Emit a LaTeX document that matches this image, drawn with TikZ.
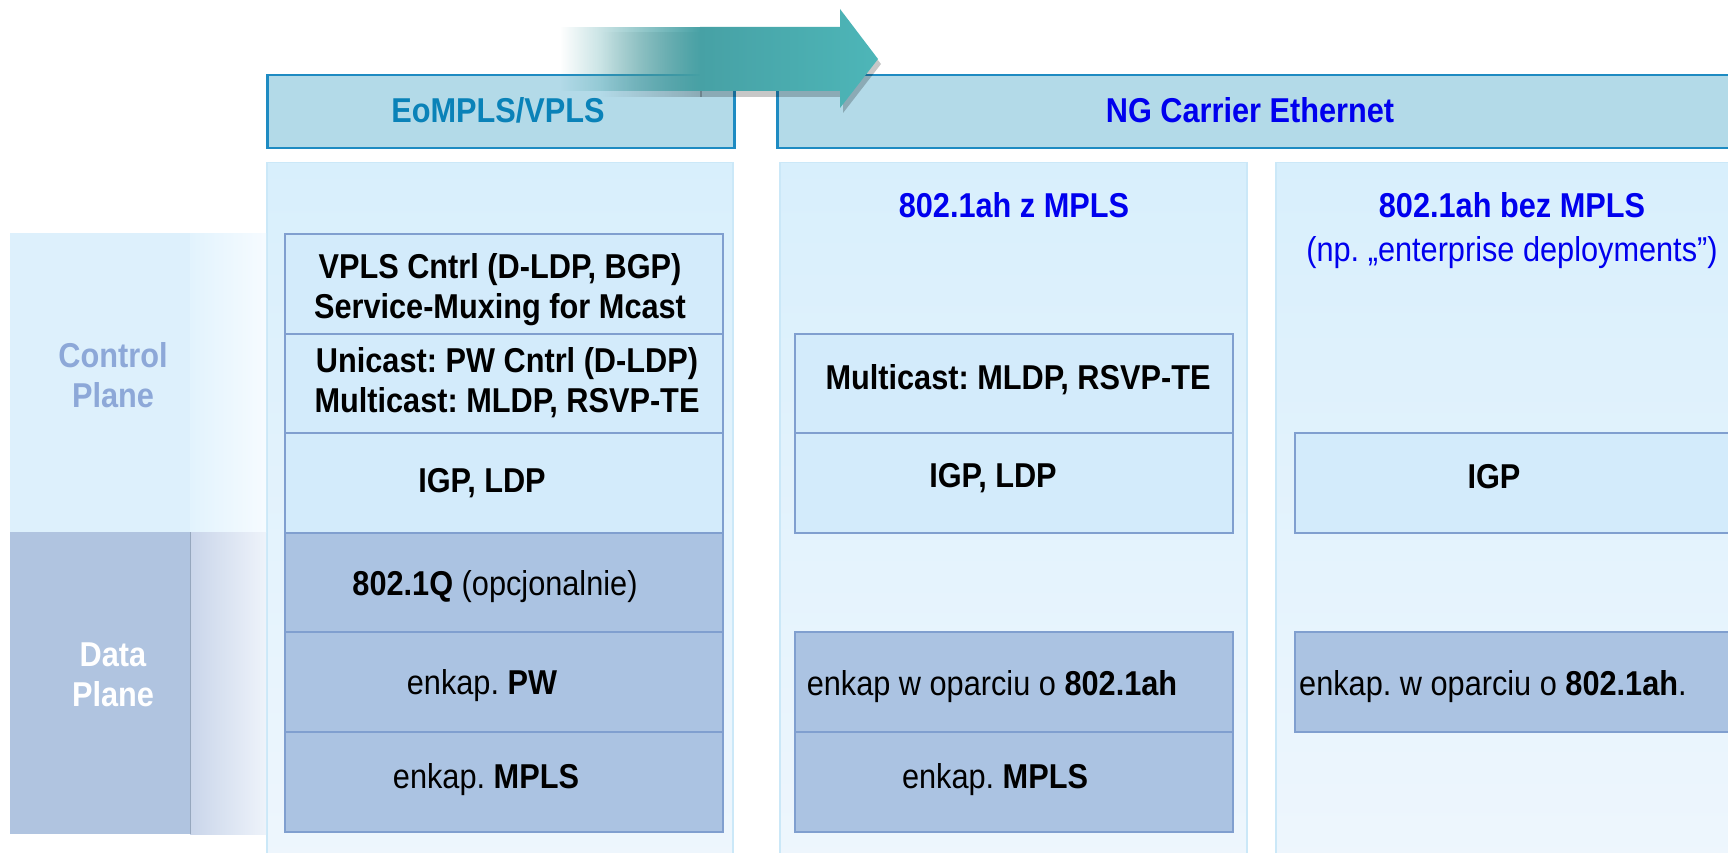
\documentclass[tikz,border=0pt]{standalone}
\usepackage{fontspec}
\setmainfont{Liberation Sans}[FakeStretch=0.89]
\usetikzlibrary{fadings}
\frenchspacing
\definecolor{hdrfill}{HTML}{B3DAE8}
\definecolor{hdrline}{HTML}{1E8BC2}
\definecolor{eocol}{HTML}{0A82B8}
\definecolor{ngcol}{HTML}{0000EE}
\definecolor{colbgtop}{HTML}{D8EFFC}
\definecolor{colbgbot}{HTML}{EEF6FD}
\definecolor{colline}{HTML}{CBE8F8}
\definecolor{cpfill}{HTML}{D3EBFB}
\definecolor{dpfill}{HTML}{ABC3E2}
\definecolor{boxline}{HTML}{809FCF}
\definecolor{cplab}{HTML}{DDF0FC}
\definecolor{dplab}{HTML}{B0C4E0}
\definecolor{cpfadel}{HTML}{E2F3FD}
\definecolor{cpfader}{HTML}{F6FBFF}
\definecolor{dpfadel}{HTML}{C9D5EA}
\definecolor{dpfader}{HTML}{EEF3FA}
\definecolor{cptext}{HTML}{8DA8D8}
\definecolor{arrowteal}{HTML}{4DB6B8}
\definecolor{arrowdark}{HTML}{47A1A5}
\tikzfading[name=fadein, left color=transparent!100, right color=transparent!0]
\begin{document}
\begin{tikzpicture}[x=1pt,y=-1pt,
  box/.style={rectangle, inner sep=0pt, anchor=north west},
  colbg/.style={box, draw=colline, line width=1.5pt, top color=colbgtop, bottom color=colbgbot},
  hdr/.style={box, draw=hdrline, line width=2.5pt, fill=hdrfill},
  cpbox/.style={box, draw=boxline, line width=2pt, fill=cpfill},
  dpbox/.style={box, draw=boxline, line width=2pt, fill=dpfill},
  txt/.style={font=\fontsize{34.5}{40}\selectfont, align=center, inner sep=0pt},
  btxt/.style={font=\fontsize{34.5}{40}\selectfont\bfseries, align=center, inner sep=0pt}]
\clip (0,0) rectangle (1728,853);
\fill[white] (0,0) rectangle (1728,853);

% column backgrounds
\node[colbg, minimum width=466pt, minimum height=700pt] (col1) at (266,162) {};
\node[colbg, minimum width=467pt, minimum height=700pt] (col2) at (779,162) {};
\node[colbg, minimum width=480pt, minimum height=700pt] (col3) at (1275,162) {};

% left plane labels
\node[box, fill=cplab, minimum width=180pt, minimum height=299pt] (cplane) at (10,233) {};
\node[box, left color=cpfadel, right color=cpfader, minimum width=76pt, minimum height=299pt] (cfade) at (190,233) {};
\node[box, fill=dplab, minimum width=180pt, minimum height=302pt] (dplane) at (10,532) {};
\node[box, left color=dpfadel, right color=dpfader, minimum width=76pt, minimum height=302pt] (dfade) at (190,532) {};
\draw[dplab!85!black, line width=0.6pt] (dfade.north west) -- (dfade.south west);
\node[btxt, text=cptext] (cptxt) at (113,375) {Control\\Plane};
\node[btxt, text=white] (dptxt) at (113,675) {Data\\Plane};

% headers
\node[hdr, minimum width=467pt, minimum height=73pt] (h1) at (266,74) {};
\node[hdr, minimum width=990pt, minimum height=73pt] (h2) at (776,74) {};
\node[btxt, text=eocol] (h1t) at (498,110) {EoMPLS/VPLS};
\node[btxt, text=ngcol] (h2t) at (1250,110) {NG Carrier Ethernet};

% arrow
\fill[black, opacity=0.22, path fading=fadein] (600,32) rectangle (702,97);
\fill[black, opacity=0.22] (700,32) -- (843,32) -- (843,15) -- (881,64) -- (843,113) -- (843,97) -- (700,97) -- cycle;
\fill[arrowdark, path fading=fadein] (560,27) rectangle (701,91);
\path[left color=arrowdark, right color=arrowteal] (700,27) -- (840,27) -- (840,9) -- (878,59) -- (840,108) -- (840,91) -- (700,91) -- cycle;
\coordinate (arrowtip) at (878,59);

% column 1
\node[cpbox, minimum width=438pt, minimum height=100pt] (a1) at (284,233) {};
\node[cpbox, minimum width=438pt, minimum height=99pt] (a2) at (284,333) {};
\node[cpbox, minimum width=438pt, minimum height=100pt] (a3) at (284,432) {};
\node[dpbox, minimum width=438pt, minimum height=99pt] (a4) at (284,532) {};
\node[dpbox, minimum width=438pt, minimum height=100pt] (a5) at (284,631) {};
\node[dpbox, minimum width=438pt, minimum height=100pt] (a6) at (284,731) {};
\node[btxt] (a1t) at (500,290) {VPLS Cntrl (D-LDP, BGP)\\Service-Muxing for Mcast};
\node[btxt] (a2t) at (507,383) {Unicast: PW Cntrl (D-LDP)\\Multicast: MLDP, RSVP-TE};
\node[btxt] (a3t) at (482,483) {IGP, LDP};
\node[txt] (a4t) at (495,587) {\textbf{802.1Q} (opcjonalnie)};
\node[txt] (a5t) at (482,686) {enkap. \textbf{PW}};
\node[txt] (a6t) at (486,780) {enkap. \textbf{MPLS}};

% column 2
\node[btxt, text=ngcol] (c2t) at (1014,205) {802.1ah z MPLS};
\node[cpbox, minimum width=438pt, minimum height=99pt] (b2) at (794,333) {};
\node[cpbox, minimum width=438pt, minimum height=100pt] (b3) at (794,432) {};
\node[dpbox, minimum width=438pt, minimum height=100pt] (b5) at (794,631) {};
\node[dpbox, minimum width=438pt, minimum height=100pt] (b6) at (794,731) {};
\node[btxt] (b2t) at (1018,380) {Multicast: MLDP, RSVP-TE};
\node[btxt] (b3t) at (993,478) {IGP, LDP};
\node[txt] (b5t) at (992,687) {enkap w oparciu o \textbf{802.1ah}};
\node[txt] (b6t) at (995,780) {enkap. \textbf{MPLS}};

% column 3
\node[btxt, text=ngcol] (c3t) at (1512,205) {802.1ah bez MPLS};
\node[txt, text=ngcol] (c3s) at (1512,253) {(np. „enterprise deployments”)};
\node[cpbox, minimum width=470pt, minimum height=100pt] (d3) at (1294,432) {};
\node[dpbox, minimum width=470pt, minimum height=100pt] (d5) at (1294,631) {};
\node[btxt] (d3t) at (1494,477) {IGP};
\node[txt, anchor=west] (d5t) at (1299,687) {enkap. w oparciu o \textbf{802.1ah}.};
\end{tikzpicture}
\end{document}
